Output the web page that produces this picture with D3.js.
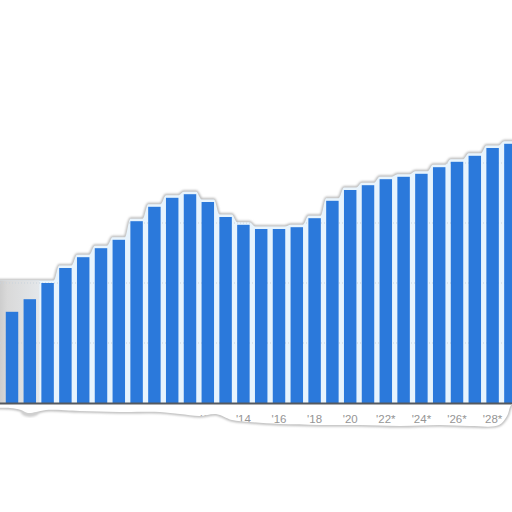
<!DOCTYPE html>
<html>
<head>
<meta charset="utf-8">
<script src="https://cdn.jsdelivr.net/npm/d3@7"></script>
<style>
  html, body { margin: 0; padding: 0; background: #fff; }
  svg { display: block; }
</style>
</head>
<body>
<div id="chart"></div>
<script>
const years = ['2001', '2002', '2003', '2004', '2005', '2006', '2007', '2008', '2009', '2010',
  '2011', '2012', '2013', '2014', '2015', '2016', '2017', '2018', '2019', '2020',
  '2021', '2022', '2023', '2024', '2025', '2026', '2027', '2028', '2029']
const values = [152, 173, 200, 225, 243, 258, 272, 303, 327, 342,
  348, 335, 310, 297, 290, 290, 293, 308, 337, 355,
  363, 373, 377, 382, 393, 402, 412, 425, 432]
const tickYears = ['2002', '2004', '2006', '2008', '2010', '2012', '2014',
  '2016', '2018', '2020', '2022', '2024', '2026', '2028']
const tickLabels = ["'02", "'04", "'06", "'08", "'10", "'12", "'14",
  "'16", "'18", "'20", "'22*", "'24*", "'26*", "'28*"]
const gridValues = [100, 200, 300, 400]

const width = 512
const height = 512
const step = 17.8

const svg = d3.select('#chart')
  .append('svg')
  .attr('width', width)
  .attr('height', height)

const x = d3.scaleBand(years, [3.1, 3.1 + years.length * step])
  .paddingInner(0.3)
  .paddingOuter(0.15)

const y = d3.scaleLinear([0, 500], [403, 103])

// torn paper outline: top follows the bars, bottom is a ragged tear
const edgePts = []
years.forEach((yr, i) => {
  const v = i < 2 ? Math.max(values[i], values[2]) : values[i]
  const top = y(v) - 2.5
  edgePts.push([x(yr), top], [x(yr) + x.bandwidth(), top])
})
edgePts.unshift([-8, edgePts[0][1]])
edgePts.push([530, edgePts[edgePts.length - 1][1]])

const tear = [[530, 400], [512, 404], [507, 416], [499, 425], [470, 426], [440, 425],
  [400, 426], [360, 425], [320, 425], [280, 424], [250, 422], [232, 420],
  [216, 414], [200, 416], [180, 414], [160, 412], [120, 412], [80, 411],
  [46, 410], [36, 412], [28, 413], [21, 410], [10, 408], [-8, 408]]

const topPath = d3.line().curve(d3.curveMonotoneX)(edgePts)
const tearPath = d3.line().curve(d3.curveCatmullRom)(tear)
const paperPath = topPath + 'L' + tearPath.slice(1) + 'Z'

const defs = svg.append('defs')
defs.append('clipPath').attr('id', 'paper')
  .append('path').attr('d', paperPath)

const blur = defs.append('filter').attr('id', 'soft')
  .attr('x', '-10%').attr('y', '-10%').attr('width', '120%').attr('height', '120%')
blur.append('feGaussianBlur').attr('stdDeviation', 1.1)

const shade = defs.append('linearGradient').attr('id', 'shade')
  .attr('x1', 0).attr('x2', 1).attr('y1', 0).attr('y2', 0)
shade.append('stop').attr('offset', 0).attr('stop-color', '#bdbdbd')
shade.append('stop').attr('offset', 0.35).attr('stop-color', '#d9d9d9')
shade.append('stop').attr('offset', 1).attr('stop-color', '#e4e7ea')

// shadow / rim of the paper
svg.append('path')
  .attr('d', paperPath)
  .attr('fill', '#fff')
  .attr('stroke', '#b9b9b9')
  .attr('stroke-width', 3)
  .attr('filter', 'url(#soft)')

// extra soft shadow blob under the torn corner
svg.append('ellipse')
  .attr('cx', 30).attr('cy', 412).attr('rx', 9).attr('ry', 5)
  .attr('fill', '#cfcfcf')
  .attr('filter', 'url(#soft)')

const paper = svg.append('g').attr('clip-path', 'url(#paper)')

paper.append('rect')
  .attr('x', -10).attr('y', 0)
  .attr('width', width + 20).attr('height', y(0))
  .attr('fill', '#e8f4fd')
paper.append('rect')
  .attr('x', -10).attr('y', y(0))
  .attr('width', width + 20).attr('height', height - y(0))
  .attr('fill', '#fff')

// curled, shaded corner on the left
paper.append('rect')
  .attr('x', -10).attr('y', y(values[2]) - 4)
  .attr('width', x(years[2]) + 8)
  .attr('height', y(0) - y(values[2]) + 4)
  .attr('fill', 'url(#shade)')

paper.append('g')
  .selectAll('line')
  .data(gridValues)
  .join('line')
  .attr('x1', 0).attr('x2', width)
  .attr('y1', d => y(d)).attr('y2', d => y(d))
  .attr('stroke', '#c9d3dc')
  .attr('stroke-dasharray', '1,2')

paper.append('g')
  .selectAll('rect')
  .data(values)
  .join('rect')
  .attr('x', (d, i) => x(years[i]))
  .attr('y', d => y(d))
  .attr('width', x.bandwidth())
  .attr('height', d => y(0) - y(d))
  .attr('fill', '#2b79db')

paper.append('line')
  .attr('x1', 0).attr('x2', width)
  .attr('y1', y(0) + 0.5).attr('y2', y(0) + 0.5)
  .attr('stroke', '#55595e')
  .attr('stroke-width', 2)

paper.append('g')
  .selectAll('text')
  .data(tickLabels)
  .join('text')
  .attr('x', (d, i) => x(tickYears[i]) + x.bandwidth() / 2)
  .attr('y', 423)
  .attr('text-anchor', 'middle')
  .attr('font-family', 'Liberation Sans, Arial, sans-serif')
  .attr('font-size', 11.5)
  .attr('fill', '#959595')
  .text(d => d)
</script>
</body>
</html>
